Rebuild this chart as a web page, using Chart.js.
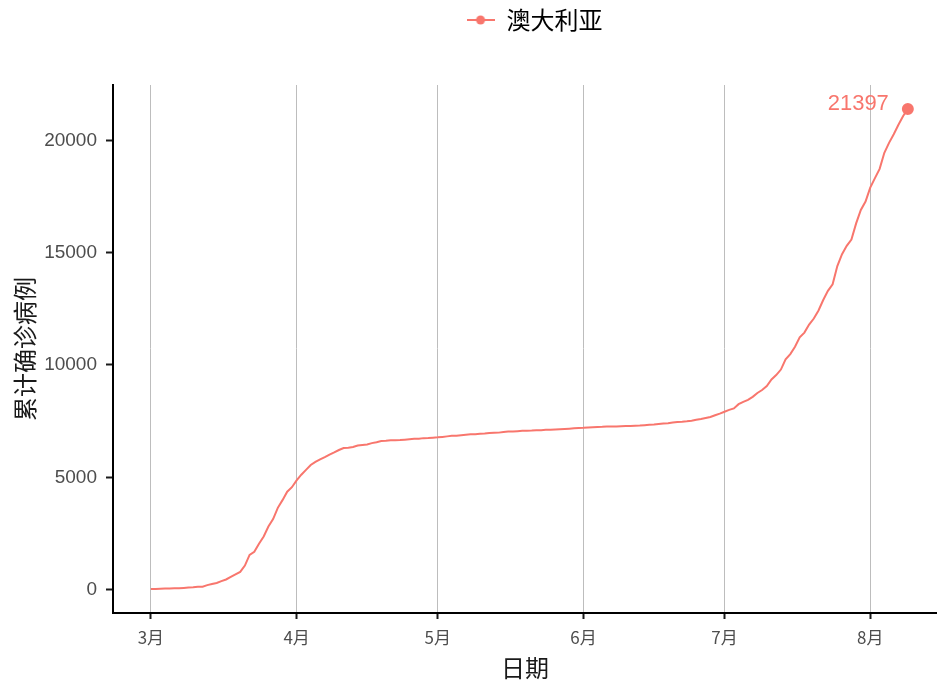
<!DOCTYPE html>
<html>
<head>
<meta charset="utf-8">
<script src="https://cdn.jsdelivr.net/npm/chart.js"></script>
<style>
  html, body { margin: 0; padding: 0; background: #fff; }
  #wrap { width: 937px; height: 686px; }
</style>
</head>
<body>
<div id="wrap"><canvas id="chart"></canvas></div>
<script>
// cumulative confirmed cases, one value per day starting 2020-03-01
var seriesName = '澳大利亚';
var cases = [
    // March
    27, 30, 39, 52, 55, 60, 63, 76, 91, 107, 128, 128, 200, 250, 297, 377,
    452, 568, 681, 791, 1071, 1549, 1682, 2044, 2364, 2810, 3143, 3640, 3984, 4361, 4559,
    // April
    4862, 5116, 5330, 5550, 5687, 5797, 5895, 6010, 6108, 6215, 6303, 6315, 6351, 6415, 6440,
    6462, 6522, 6565, 6616, 6623, 6645, 6652, 6662, 6677, 6694, 6714, 6721, 6744, 6752, 6766,
    // May
    6778, 6799, 6822, 6847, 6849, 6875, 6894, 6913, 6918, 6939, 6948, 6970, 6980, 6989, 7019,
    7035, 7044, 7054, 7068, 7072, 7081, 7095, 7099, 7114, 7114, 7126, 7139, 7150, 7165, 7184, 7192,
    // June
    7204, 7221, 7229, 7240, 7247, 7259, 7265, 7267, 7274, 7285, 7289, 7294, 7302, 7320, 7335,
    7347, 7370, 7391, 7409, 7436, 7461, 7474, 7492, 7521, 7558, 7595, 7641, 7686, 7764, 7834,
    // July
    7920, 8001, 8066, 8255, 8362, 8449, 8583, 8755, 8886, 9059, 9359, 9553, 9797, 10251, 10487,
    10810, 11233, 11441, 11802, 12069, 12428, 12894, 13302, 13595, 14403, 14935, 15303, 15582, 16303, 16905, 17280,
    // August
    17895, 18318, 18730, 19445, 19890, 20272, 20698, 21084, 21397
];
// day offsets (from Mar 1) of the first of each month, and their labels
var monthTicks = [0, 31, 61, 92, 122, 153];
var monthLabels = ['3月', '4月', '5月', '6月', '7月', '8月'];
var yTicks = [0, 5000, 10000, 15000, 20000];

var lineColor = '#F8766D';
var cjk = '"Noto Sans CJK SC", sans-serif';
var latin = '"Liberation Sans", Arial, sans-serif';

var points = cases.map(function (v, i) { return { x: i, y: v }; });
var last = points.length - 1;

// legend key: line with a dot, like the ggplot key
var key = document.createElement('canvas');
key.width = 28; key.height = 12;
(function () {
    var c = key.getContext('2d');
    c.strokeStyle = lineColor; c.lineWidth = 2;
    c.beginPath(); c.moveTo(0, 6); c.lineTo(28, 6); c.stroke();
    c.fillStyle = lineColor;
    c.beginPath(); c.arc(14, 6, 4.5, 0, Math.PI * 2); c.fill();
})();

// writes the last value next to the last point
var endLabel = {
    id: 'endLabel',
    afterDatasetsDraw: function (chart) {
        var xs = chart.scales.x, ys = chart.scales.y;
        var ctx = chart.ctx;
        ctx.save();
        ctx.font = '22px ' + latin;
        ctx.fillStyle = lineColor;
        ctx.textAlign = 'right';
        ctx.textBaseline = 'middle';
        ctx.fillText(String(cases[last]), xs.getPixelForValue(last) - 19, ys.getPixelForValue(cases[last]) - 5);
        ctx.restore();
    }
};

// taller legend box, and legend moved a bit right as in the original
var legendBox = {
    id: 'legendBox',
    beforeInit: function (chart) {
        var fit = chart.legend.fit;
        chart.legend.fit = function () {
            fit.bind(chart.legend)();
            this.height = 85;
        };
    },
    afterLayout: function (chart) {
        chart.legend.left += 66;
        chart.legend.right += 66;
    }
};

var chart = new Chart(document.getElementById('chart'), {
    type: 'line',
    data: {
        datasets: [{
            label: seriesName,
            data: points,
            borderColor: lineColor,
            backgroundColor: lineColor,
            borderWidth: 2,
            pointRadius: function (c) { return c.dataIndex === last ? 5 : 0; },
            pointHoverRadius: 0,
            pointStyle: 'circle',
            tension: 0
        }]
    },
    options: {
        responsive: true,
        maintainAspectRatio: false,
        animation: false,
        layout: { padding: 0, autoPadding: false },
        plugins: {
            tooltip: { enabled: false },
            legend: {
                position: 'top',
                labels: {
                    usePointStyle: true,
                    pointStyleWidth: 28,
                    padding: 8,
                    color: '#1a1a1a',
                    font: { family: cjk, size: 24 },
                    generateLabels: function () {
                        return [{ text: seriesName, pointStyle: key, fillStyle: lineColor, strokeStyle: lineColor, lineWidth: 0, datasetIndex: 0 }];
                    }
                }
            }
        },
        scales: {
            x: {
                type: 'linear',
                min: -8.05,
                max: 167.2,
                afterBuildTicks: function (s) { s.ticks = monthTicks.map(function (v) { return { value: v }; }); },
                afterFit: function (s) { s.height = 73; s.paddingLeft = 0; s.paddingRight = 0; },
                ticks: {
                    color: '#4d4d4d',
                    font: { family: cjk, size: 17 },
                    padding: 8,
                    maxRotation: 0,
                    callback: function (v) { return monthLabels[monthTicks.indexOf(v)]; }
                },
                grid: { color: '#bdbdbd', lineWidth: 1, tickColor: '#1a1a1a', tickLength: 6, tickWidth: 2 },
                border: { color: '#000', width: 2 },
                title: { display: true, text: '日期', color: '#1a1a1a', font: { family: cjk, size: 24 }, padding: { top: 0 } }
            },
            y: {
                min: -1041,
                max: 22465,
                afterBuildTicks: function (s) { s.ticks = yTicks.map(function (v) { return { value: v }; }); },
                afterFit: function (s) { s.width = 113; },
                ticks: {
                    color: '#4d4d4d',
                    font: { family: latin, size: 19 },
                    padding: 9,
                    callback: function (v) { return String(v); }
                },
                grid: { drawOnChartArea: false, tickColor: '#1a1a1a', tickLength: 7, tickWidth: 2 },
                border: { color: '#000', width: 2 },
                title: { display: true, text: '累计确诊病例', color: '#1a1a1a', font: { family: cjk, size: 24 }, padding: { top: 10, bottom: 0 } }
            }
        }
    },
    plugins: [legendBox, endLabel]
});
</script>
</body>
</html>
